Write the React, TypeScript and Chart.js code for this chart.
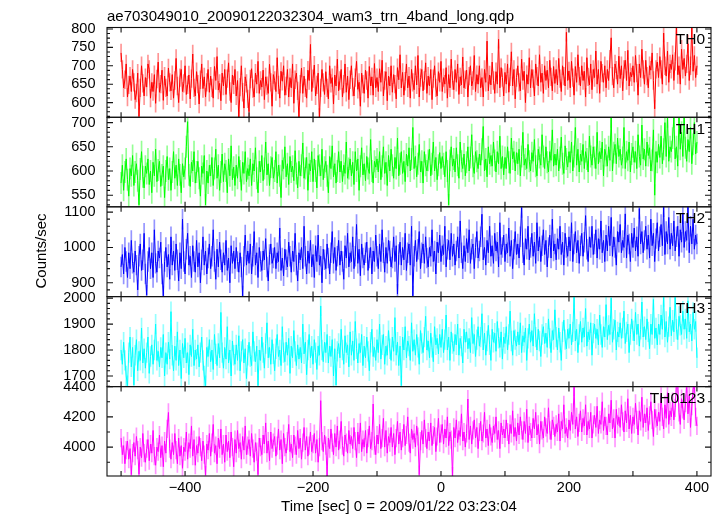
import React, { useEffect, useRef } from "react";
import { Chart, registerables } from "chart.js";

Chart.register(...registerables);

const FIG_W = 723;
const FIG_H = 516;
const FONT = "'Liberation Sans', Arial, Helvetica, sans-serif";

const TITLE = "ae703049010_20090122032304_wam3_trn_4band_long.qdp";
const X_TITLE = "Time [sec] 0 = 2009/01/22 03:23:04";
const Y_TITLE = "Counts/sec";

// time bins: first bin centre and bin width (sec)
const BIN_START = -500;
const BIN_SEC = 2;

const X_MIN = -522;
const X_MAX = 422;
const X_TICKS = [-500, -400, -300, -200, -100, 0, 100, 200, 300, 400];
const X_LABELS = [-400, -200, 0, 200, 400];

const TH0 = [
  735, 690, 640, 662, 705, 615, 648, 672, 630, 690,
  655, 608, 626, 680, 562, 640, 700, 652, 618, 668,
  642, 705, 690, 612, 655, 630, 676, 598, 664, 710,
  628, 650, 688, 606, 672, 640, 618, 694, 655, 632,
  676, 612, 660, 720, 645, 600, 668, 690, 630, 652,
  700, 622, 648, 675, 610, 665, 732, 640, 618, 684,
  650, 596, 662, 705, 638, 670, 615, 655, 690, 628,
  672, 640, 612, 698, 660, 725, 634, 652, 605, 680,
  645, 690, 622, 665, 708, 630, 600, 675, 648, 690,
  618, 660, 555, 642, 700, 628, 585, 670, 652, 610,
  575, 664, 692, 638, 615, 680, 650, 712, 625, 660,
  642, 688, 608, 670, 646, 625, 704, 655, 590, 676,
  660, 630, 722, 648, 612, 685, 658, 700, 620, 645,
  690, 615, 668, 640, 705, 598, 662, 680, 632, 560,
  650, 694, 625, 672, 640, 612, 688, 660, 758, 630,
  665, 702, 618, 648, 680, 560, 640, 690, 655, 622,
  684, 640, 610, 700, 652, 668, 596, 675, 645, 718,
  632, 660, 690, 615, 650, 705, 628, 672, 608, 662,
  700, 642, 618, 668, 712, 636, 655, 590, 680, 650,
  625, 688, 660, 612, 698, 645, 670, 620, 706, 640,
  668, 630, 692, 655, 715, 618, 660, 684, 605, 672,
  645, 700, 628, 676, 650, 610, 695, 662, 730, 640,
  682, 620, 658, 705, 640, 672, 612, 690, 655, 635,
  700, 648, 728, 615, 668, 690, 632, 660, 708, 625,
  672, 645, 690, 608, 665, 700, 640, 618, 684, 655,
  712, 630, 668, 650, 695, 612, 676, 640, 718, 660,
  635, 690, 655, 705, 622, 670, 648, 724, 640, 662,
  688, 615, 672, 700, 645, 660, 728, 630, 676, 650,
  700, 640, 668, 615, 690, 655, 767, 632, 675, 648,
  710, 660, 625, 684, 650, 772, 640, 695, 668, 618,
  682, 650, 705, 628, 670, 738, 645, 690, 610, 668,
  700, 655, 632, 718, 660, 685, 600, 676, 650, 722,
  640, 690, 665, 618, 705, 672, 645, 730, 655, 680,
  625, 700, 660, 688, 640, 715, 670, 632, 698, 652,
  690, 648, 720, 665, 630, 700, 672, 645, 791, 660,
  686, 640, 712, 668, 620, 698, 655, 730, 672, 645,
  700, 660, 685, 615, 722, 670, 648, 705, 635, 690,
  668, 740, 650, 690, 625, 712, 680, 655, 700, 640,
  690, 660, 718, 776, 672, 640, 705, 688, 650, 726,
  665, 700, 632, 690, 715, 660, 742, 645, 682, 670,
  700, 655, 728, 680, 620, 705, 668, 745, 690, 650,
  715, 672, 640, 700, 688, 735, 660, 583, 690, 710,
  668, 725, 690, 650, 789, 700, 672, 740, 655, 705,
  690, 730, 660, 712, 810, 676, 700, 650, 745, 690,
  720, 672, 705, 760, 660, 700, 810, 685, 728, 668,
  700,
];

const TH1 = [
  575, 612, 560, 598, 625, 582, 548, 605, 590, 632,
  570, 598, 615, 580, 530, 604, 640, 588, 565, 610,
  595, 625, 572, 600, 555, 618, 590, 645, 578, 602,
  620, 568, 592, 610, 545, 600, 630, 582, 605, 560,
  598, 640, 585, 612, 570, 625, 592, 555, 615, 588,
  605, 650, 702, 592, 568, 618, 600, 640, 575, 598,
  620, 585, 548, 610, 595, 632, 530, 600, 575, 612,
  590, 628, 570, 605, 645, 585, 612, 560, 598, 635,
  578, 615, 600, 555, 625, 590, 652, 582, 608, 570,
  612, 585, 630, 600, 560, 618, 595, 640, 578, 605,
  590, 625, 570, 615, 600, 648, 585, 555, 620, 598,
  632, 580, 605, 660, 592, 615, 570, 608, 628, 585,
  600, 640, 575, 612, 590, 545, 622, 605, 650, 588,
  615, 572, 630, 598, 610, 580, 642, 595, 565, 620,
  590, 612, 658, 585, 605, 628, 560, 615, 600, 640,
  578, 625, 600, 565, 632, 612, 590, 645, 582, 608,
  620, 590, 555, 630, 605, 652, 588, 615, 575, 600,
  640, 598, 620, 578, 612, 595, 660, 585, 605, 625,
  590, 618, 572, 640, 600, 625, 560, 610, 648, 592,
  615, 580, 630, 605, 595, 665, 600, 575, 620, 608,
  625, 598, 640, 582, 610, 650, 595, 618, 570, 632,
  600, 645, 612, 585, 628, 605, 668, 590, 615, 640,
  595, 620, 578, 635, 610, 648, 600, 625, 690, 605,
  630, 588, 615, 655, 598, 620, 575, 640, 612, 600,
  622, 645, 590, 615, 660, 600, 628, 582, 612, 638,
  605, 630, 615, 588, 640, 600, 530, 622, 650, 610,
  625, 598, 648, 612, 585, 660, 620, 605, 635, 590,
  618, 650, 600, 628, 675, 610, 595, 640, 620, 605,
  635, 612, 645, 692, 600, 625, 588, 650, 615, 632,
  610, 660, 622, 598, 640, 615, 672, 605, 630, 592,
  628, 605, 650, 618, 595, 668, 625, 640, 600, 638,
  615, 645, 590, 630, 680, 612, 625, 605, 655, 620,
  600, 638, 620, 665, 610, 590, 645, 628, 612, 675,
  630, 605, 650, 618, 598, 640, 622, 685, 610, 635,
  612, 645, 600, 628, 670, 615, 595, 652, 625, 608,
  640, 618, 660, 600, 630, 690, 612, 645, 598, 635,
  620, 655, 605, 640, 625, 598, 672, 630, 612, 650,
  628, 605, 680, 615, 640, 625, 660, 590, 645, 632,
  610, 650, 622, 712, 600, 638, 655, 615, 668, 630,
  645, 612, 628, 690, 605, 640, 622, 660, 598, 635,
  650, 618, 640, 605, 675, 630, 612, 695, 625, 645,
  610, 660, 632, 648, 600, 622, 685, 550, 640, 618,
  655, 628, 672, 615, 645, 700, 630, 712, 620, 650,
  640, 668, 712, 625, 650, 610, 712, 645, 680, 630,
  712, 648, 620, 665, 640, 690, 615, 655, 700, 635,
  660,
];

const TH2 = [
  945, 980, 925, 1000, 960, 915, 985, 940, 1020, 955,
  930, 990, 950, 880, 975, 1010, 935, 965, 1040, 925,
  865, 960, 1000, 940, 985, 915, 1050, 955, 930, 990,
  970, 1015, 925, 863, 960, 1000, 945, 980, 910, 1030,
  950, 990, 935, 1010, 965, 905, 985, 940, 1080, 960,
  925, 995, 1040, 950, 975, 915, 1005, 960, 930, 1020,
  945, 985, 900, 965, 1030, 950, 990, 925, 970, 1010,
  940, 975, 1050, 960, 910, 995, 945, 1015, 965, 930,
  985, 950, 1020, 935, 970, 900, 1005, 955, 990, 940,
  1000, 960, 930, 985, 945, 863, 975, 1035, 950, 990,
  955, 1010, 925, 975, 1045, 950, 985, 915, 1000, 960,
  935, 990, 965, 1025, 945, 905, 980, 1010, 955, 970,
  1000, 940, 985, 960, 1055, 935, 970, 920, 995, 965,
  945, 1015, 975, 930, 990, 960, 1040, 950, 905, 985,
  965, 1000, 940, 1060, 975, 925, 990, 955, 1020, 945,
  980, 915, 1005, 960, 1035, 950, 975, 900, 995, 965,
  940, 1010, 970, 925, 985, 1045, 955, 1000, 935, 975,
  1020, 950, 990, 960, 910, 1005, 970, 1040, 945, 985,
  960, 1030, 940, 975, 1065, 955, 995, 920, 1010, 970,
  950, 985, 1015, 935, 970, 1000, 925, 990, 960, 1035,
  975, 940, 1010, 960, 1050, 985, 930, 1000, 955, 1020,
  990, 945, 970, 1030, 960, 1005, 868, 980, 1015, 950,
  1000, 965, 1040, 935, 985, 1010, 950, 1060, 863, 975,
  1020, 960, 995, 1045, 940, 985, 1010, 955, 1030, 970,
  945, 1000, 975, 1050, 960, 990, 925, 1015, 985, 1035,
  960, 1005, 980, 1060, 945, 995, 1020, 965, 1040, 975,
  1010, 950, 990, 1030, 970, 1075, 985, 940, 1005, 960,
  1025, 985, 1050, 955, 995, 1010, 940, 1000, 1045, 970,
  990, 1030, 1094, 965, 1000, 950, 1020, 985, 1060, 975,
  1005, 955, 1040, 990, 1015, 945, 1070, 980, 1000, 1035,
  960, 1010, 985, 1055, 975, 1020, 940, 995, 1045, 980,
  1010, 970, 1030, 1113, 985, 950, 1025, 995, 1060, 965,
  1000, 1040, 975, 1015, 955, 1070, 990, 1030, 960, 1005,
  1050, 980, 1020, 945, 1000, 1035, 970, 1080, 990, 1010,
  965, 1025, 995, 1060, 980, 1015, 950, 1040, 1000, 975,
  1030, 990, 1070, 960, 1010, 1045, 985, 1020, 955, 1005,
  1040, 975, 1015, 1090, 995, 960, 1030, 1000, 1060, 980,
  1010, 1050, 970, 1025, 995, 1075, 985, 1020, 960, 1035,
  990, 1060, 1005, 1085, 975, 1030, 1000, 950, 1045, 1015,
  1065, 985, 1020, 1000, 1095, 970, 1035, 1010, 960, 1040,
  1000, 1055, 990, 1030, 975, 1110, 1010, 1045, 985, 1020,
  1060, 995, 1035, 970, 1080, 1005, 1040, 960, 1025, 1070,
  990, 1030, 1065, 1005, 1115, 980, 1045, 1010, 1085, 995,
  1040, 1005, 1075, 990, 1030, 1060, 975, 1050, 1015, 1095,
  1000, 1045, 1020, 1115, 985, 1060, 1010, 1080, 995, 1035,
  1010,
];

const TH3 = [
  1800, 1745, 1830, 1760, 1700, 1663, 1790, 1850, 1735, 1810,
  1665, 1780, 1840, 1720, 1795, 1760, 1885, 1750, 1805, 1730,
  1790, 1850, 1710, 1775, 1820, 1745, 1800, 1900, 1760, 1795,
  1735, 1810, 1770, 1860, 1700, 1790, 1745, 1830, 1765, 1948,
  1780, 1720, 1815, 1760, 1870, 1740, 1800, 1690, 1825, 1770,
  1845, 1750, 1790, 1705, 1820, 1775, 1880, 1740, 1800, 1765,
  1820, 1735, 1790, 1850, 1760, 1700, 1663, 1810, 1775, 1840,
  1755, 1800, 1725, 1860, 1785, 1740, 1825, 1770, 1945, 1790,
  1730, 1810, 1765, 1890, 1750, 1800, 1700, 1835, 1780, 1745,
  1820, 1760, 1855, 1720, 1795, 1840, 1750, 1805, 1690, 1780,
  1830, 1775, 1740, 1870, 1795, 1755, 1815, 1663, 1800, 1760,
  1850, 1790, 1730, 1825, 1905, 1770, 1810, 1745, 1840, 1785,
  1720, 1805, 1860, 1775, 1800, 1740, 1890, 1790, 1755, 1830,
  1780, 1845, 1710, 1815, 1770, 1875, 1795, 1740, 1820, 1765,
  1810, 1750, 1900, 1785, 1830, 1705, 1800, 1860, 1770, 1815,
  1745, 1840, 1790, 1725, 1815, 1780, 1970, 1800, 1755, 1830,
  1790, 1860, 1750, 1815, 1775, 1840, 1700, 1805, 1665, 1795,
  1825, 1770, 1880, 1800, 1745, 1855, 1790, 1820, 1735, 1870,
  1780, 1835, 1760, 1910, 1805, 1750, 1825, 1790, 1860, 1740,
  1815, 1770, 1850, 1795, 1720, 1830, 1880, 1775, 1810, 1760,
  1840, 1790, 1900, 1765, 1820, 1860, 1745, 1815, 1780, 1875,
  1805, 1760, 1850, 1795, 1925, 1780, 1830, 1740, 1815, 1663,
  1850, 1800, 1890, 1770, 1835, 1815, 1760, 1905, 1795, 1840,
  1780, 1860, 1810, 1745, 1875, 1825, 1790, 1850, 1930, 1800,
  1835, 1770, 1865, 1810, 1755, 1890, 1820, 1845, 1785, 1860,
  1810, 1880, 1790, 1840, 1935, 1800, 1850, 1760, 1870, 1825,
  1795, 1860, 1820, 1900, 1780, 1845, 1815, 1750, 1880, 1830,
  1870, 1805, 1845, 1790, 1925, 1825, 1860, 1775, 1840, 1890,
  1815, 1850, 1940, 1800, 1865, 1780, 1835, 1895, 1820, 1760,
  1880, 1830, 1865, 1795, 1910, 1845, 1810, 1870, 1765, 1850,
  1825, 1890, 1800, 1860, 1950, 1835, 1780, 1875, 1840, 1815,
  1870, 1820, 1905, 1790, 1855, 1830, 1885, 1760, 1845, 1900,
  1830, 1875, 1815, 1940, 1850, 1800, 1880, 1835, 1775, 1860,
  1890, 1825, 1865, 1810, 1920, 1845, 1790, 1875, 1840, 1955,
  1850, 1800, 1885, 1830, 1760, 1870, 1915, 1840, 1805, 1880,
  1845, 1900, 1820, 1870, 2006, 1835, 1880, 1790, 1860, 1910,
  1830, 1885, 1850, 1960, 1815, 1870, 1840, 1905, 1780, 1865,
  1900, 1845, 1880, 1820, 1935, 1860, 1810, 1890, 1850, 1975,
  1840, 1895, 1860, 2000, 1830, 1880, 1915, 1800, 1870, 1850,
  1905, 1845, 1885, 1950, 1825, 1870, 1900, 1790, 1860, 1920,
  1875, 1835, 1945, 1860, 1900, 1815, 1880, 1985, 1850, 1890,
  1840, 1920, 1870, 1805, 1900, 1860, 1995, 1845, 1885, 1820,
  1900, 1860, 1935, 1880, 2006, 1850, 1910, 1830, 1890, 1965,
  1855, 1915, 1870, 2006, 1880, 1840, 1930, 1895, 1860, 1950,
  1880, 1920, 1845, 1990, 1870, 1900, 1835, 1945, 1880, 1910,
  1770,
];

const TH0123 = [
  4060, 3950, 4010, 3890, 3980, 4040, 3920, 3990, 3818, 3960,
  4030, 3940, 4070, 3980, 3820, 4000, 3930, 4090, 3960, 3900,
  3990, 4050, 3910, 4020, 3960, 4110, 3940, 3880, 4000, 3970,
  4080, 3930, 4010, 3870, 4040, 3960, 4120, 4229, 3990, 3920,
  4030, 3950, 4090, 3980, 3890, 4060, 3940, 4010, 3860, 4000,
  3970, 4100, 3920, 4030, 3990, 4140, 3940, 4050, 3880, 4010,
  3960, 4070, 4000, 3910, 4040, 3950, 3815, 4020, 3980, 4090,
  3940, 4030, 4150, 3960, 4010, 3890, 4060, 3990, 4120, 3950,
  4020, 3900, 4080, 3970, 4040, 3930, 4100, 4000, 3870, 4050,
  3960, 4110, 3990, 4030, 3920, 4070, 3980, 4140, 3950, 4010,
  4050, 3940, 4090, 3990, 3900, 4030, 3970, 3818, 4060, 4000,
  3950, 4080, 4020, 4160, 3960, 4040, 3910, 4100, 3990, 4030,
  4070, 3940, 4010, 4120, 3980, 4050, 3890, 4090, 4000, 3960,
  4040, 4150, 3970, 4020, 3930, 4080, 4010, 3950, 4110, 3990,
  4060, 3920, 4030, 4130, 3980, 4070, 3940, 4010, 4100, 3970,
  4020, 4090, 3960, 4050, 3900, 4000, 4307, 4040, 3970, 4080,
  4010, 3809, 4060, 3990, 4120, 4030, 3950, 4090, 4000, 4140,
  3980, 4050, 4170, 4010, 3940, 4080, 4030, 3960, 4110, 4020,
  4070, 3990, 4130, 4040, 3930, 4100, 4020, 4160, 3970, 4050,
  4000, 4110, 3960, 4060, 4140, 3990, 4040, 4285, 4010, 3950,
  4080, 4020, 4150, 3990, 4060, 4190, 4000, 4110, 3960, 4070,
  4030, 4130, 4000, 4090, 3950, 4060, 4170, 4020, 4100, 3980,
  4060, 4150, 4010, 4080, 4200, 4030, 3960, 4120, 4050, 4090,
  4000, 4140, 4070, 3818, 4040, 4110, 4020, 4180, 4060, 3990,
  4100, 4040, 4160, 4010, 4080, 4130, 3970, 4070, 4190, 4030,
  4090, 4150, 4020, 4120, 4060, 4200, 4010, 4100, 4050, 3809,
  4130, 4060, 4180, 4030, 4110, 4070, 4220, 4040, 4100, 4000,
  4090, 4318, 4050, 4140, 4020, 4110, 4180, 4060, 4130, 3990,
  4100, 4170, 4040, 4090, 4230, 4060, 4120, 4010, 4150, 4070,
  4030, 4140, 4090, 4200, 4050, 4110, 3990, 4160, 4080, 4120,
  4060, 4180, 4100, 4020, 4150, 4090, 4240, 4070, 4130, 4040,
  4160, 4080, 4200, 4110, 4050, 4170, 4090, 4250, 4030, 4140,
  4100, 4060, 4190, 4120, 4230, 4080, 4150, 4020, 4170, 4110,
  4060, 4200, 4130, 4090, 4260, 4110, 4050, 4180, 4140, 4070,
  4150, 4100, 4220, 4040, 4170, 4120, 4280, 4090, 4130, 4060,
  4180, 4110, 4230, 4150, 4398, 4120, 4200, 4070, 4160, 4240,
  4100, 4190, 4140, 4280, 4080, 4170, 4120, 4230, 4060, 4150,
  4210, 4130, 4270, 4090, 4180, 4150, 4300, 4110, 4200, 4140,
  4080, 4220, 4160, 4310, 4120, 4190, 4060, 4250, 4150, 4200,
  4130, 4280, 4170, 4100, 4240, 4160, 4320, 4120, 4210, 4090,
  4200, 4150, 4290, 4180, 4080, 4240, 4170, 4330, 4130, 4220,
  4160, 4260, 4110, 4210, 4300, 4180, 4070, 4250, 4190, 4140,
  4230, 4170, 4340, 4200, 4120, 4280, 4190, 4360, 4150, 4240,
  4200, 4300, 4180, 4260, 4420, 4410, 4230, 4150, 4320, 4250,
  4180, 4290, 4420, 4220, 4340, 4130, 4270, 4380, 4420, 4200,
  4140,
];

// typical 1-sigma error bar half-length of each light curve (counts/sec)
const ERRORS = [24, 22, 28, 38, 58];

const SERIES = [TH0, TH1, TH2, TH3, TH0123];
const NAMES = ["TH0", "TH1", "TH2", "TH3", "TH0123"];
const COLORS = ["#ff0000", "#00ff00", "#0000ff", "#00ffff", "#ff00ff"];
const ERR_COLORS = [
  "rgba(255,0,0,0.42)",
  "rgba(0,255,0,0.42)",
  "rgba(0,0,255,0.42)",
  "rgba(0,255,255,0.42)",
  "rgba(255,0,255,0.42)",
];
const Y_MIN = [560, 526, 861, 1659, 3809];
const Y_MAX = [804, 711, 1115, 2006, 4400];
const Y_LABELS = [
  [600, 650, 700, 750, 800],
  [550, 600, 650, 700],
  [900, 1000, 1100],
  [1700, 1800, 1900, 2000],
  [4000, 4200, 4400],
];
const Y_MINOR = [12.5, 10, 20, 20, 100];

// layout
const PLOT_LEFT = 107;
const PLOT_RIGHT = 711;
const PANEL_TOPS = [27.5, 117.3, 206.8, 296.6, 386.6];
const PLOT_BOTTOM = 476;
const X_AXIS_H = 40;

const fmtX = (v: number) => (v < 0 ? "\u2212" + Math.abs(v) : String(v));

function panelPlugin(k: number) {
  return {
    id: "panelDecor" + k,
    afterDraw(chart: any) {
      const { ctx, chartArea } = chart;
      const { left, right, top, bottom } = chartArea;
      const xs = chart.scales.x;
      const ys = chart.scales.y;
      ctx.save();
      ctx.strokeStyle = "#111";
      ctx.lineWidth = 1.1;
      ctx.strokeRect(left, top, right - left, bottom - top);
      ctx.beginPath();
      for (const v of X_TICKS) {
        const px = xs.getPixelForValue(v);
        ctx.moveTo(px, top);
        ctx.lineTo(px, top + 5);
        ctx.moveTo(px, bottom);
        ctx.lineTo(px, bottom - 5);
      }
      const step = Y_MINOR[k];
      const labels = Y_LABELS[k];
      for (let n = Math.ceil(ys.min / step); n * step <= ys.max; n++) {
        const v = n * step;
        const major = labels.some((l) => Math.abs(l - v) < 1e-6);
        const len = major ? 6 : 3;
        const py = ys.getPixelForValue(v);
        ctx.moveTo(left, py);
        ctx.lineTo(left + len, py);
        ctx.moveTo(right, py);
        ctx.lineTo(right - len, py);
      }
      ctx.stroke();

      ctx.fillStyle = "#000";
      ctx.font = "15.5px " + FONT;
      ctx.textAlign = "right";
      ctx.textBaseline = "alphabetic";
      ctx.fillText(NAMES[k], 705, top + 16.5);

      if (k === SERIES.length - 1) {
        ctx.font = "15px " + FONT;
        ctx.textAlign = "left";
        ctx.fillText(TITLE, 107, 21);
        ctx.textAlign = "center";
        ctx.fillText(X_TITLE, 399, 511);
        ctx.save();
        ctx.translate(45.5, 251);
        ctx.rotate(-Math.PI / 2);
        ctx.textAlign = "center";
        ctx.fillText(Y_TITLE, 0, 0);
        ctx.restore();
      }
      ctx.restore();
    },
  };
}

function makeConfig(k: number): any {
  const top = PANEL_TOPS[k];
  const isLast = k === SERIES.length - 1;
  const bottom = isLast ? PLOT_BOTTOM : PANEL_TOPS[k + 1];
  const err = ERRORS[k];
  const pts = SERIES[k].map((v, i) => ({ x: BIN_START + i * BIN_SEC, y: v }));
  const bars = SERIES[k].map((v, i) => ({ x: BIN_START + i * BIN_SEC, y: [v - err, v + err] }));
  const xScale: any = {
    type: "linear",
    min: X_MIN,
    max: X_MAX,
    offset: false,
    display: isLast,
    grid: { display: false, drawTicks: false },
    border: { display: false },
    afterBuildTicks: (s: any) => {
      s.ticks = X_LABELS.map((v) => ({ value: v }));
    },
    ticks: {
      autoSkip: false,
      maxRotation: 0,
      padding: 3,
      color: "#000",
      font: { size: 14.5, family: FONT },
      callback: (v: any) => fmtX(Number(v)),
    },
  };
  if (isLast) {
    xScale.afterFit = (s: any) => {
      s.height = X_AXIS_H;
    };
  }
  return {
    type: "line",
    data: {
      datasets: [
        {
          type: "line",
          data: pts,
          borderColor: COLORS[k],
          borderWidth: 1,
          pointRadius: 0,
          tension: 0,
          clip: 0,
          order: 0,
        },
        {
          type: "bar",
          data: bars,
          backgroundColor: ERR_COLORS[k],
          borderWidth: 0,
          barThickness: 1,
          grouped: false,
          clip: 0,
          order: 1,
        },
      ],
    },
    options: {
      responsive: false,
      animation: false,
      devicePixelRatio: 1,
      events: [],
      layout: {
        padding: {
          left: 0,
          right: FIG_W - PLOT_RIGHT,
          top,
          bottom: isLast ? FIG_H - bottom - X_AXIS_H : FIG_H - bottom,
        },
      },
      plugins: {
        legend: { display: false },
        tooltip: { enabled: false },
        title: { display: false },
      },
      scales: {
        x: xScale,
        y: {
          type: "linear",
          min: Y_MIN[k],
          max: Y_MAX[k],
          grid: { display: false, drawTicks: false },
          border: { display: false },
          afterBuildTicks: (s: any) => {
            s.ticks = Y_LABELS[k].map((v) => ({ value: v }));
          },
          afterFit: (s: any) => {
            s.width = PLOT_LEFT;
          },
          ticks: {
            autoSkip: false,
            padding: 11.5,
            color: "#000",
            font: { size: 14.5, family: FONT },
            callback: (v: any) => String(v),
          },
        },
      },
    },
    plugins: [panelPlugin(k)],
  };
}

export default function App() {
  const refs = useRef<(HTMLCanvasElement | null)[]>([]);

  useEffect(() => {
    Chart.defaults.font.family = FONT;
    const charts = SERIES.map((_, k) => {
      const c = refs.current[k];
      return c ? new Chart(c, makeConfig(k)) : null;
    });
    return () => {
      charts.forEach((ch) => ch && ch.destroy());
    };
  }, []);

  return (
    <div
      style={{
        position: "absolute",
        left: 0,
        top: 0,
        width: FIG_W,
        height: FIG_H,
        background: "#fff",
        overflow: "hidden",
      }}
    >
      {SERIES.map((_, k) => (
        <canvas
          key={k}
          ref={(el) => {
            refs.current[k] = el;
          }}
          width={FIG_W}
          height={FIG_H}
          style={{ position: "absolute", left: 0, top: 0, width: FIG_W, height: FIG_H }}
        />
      ))}
    </div>
  );
}
